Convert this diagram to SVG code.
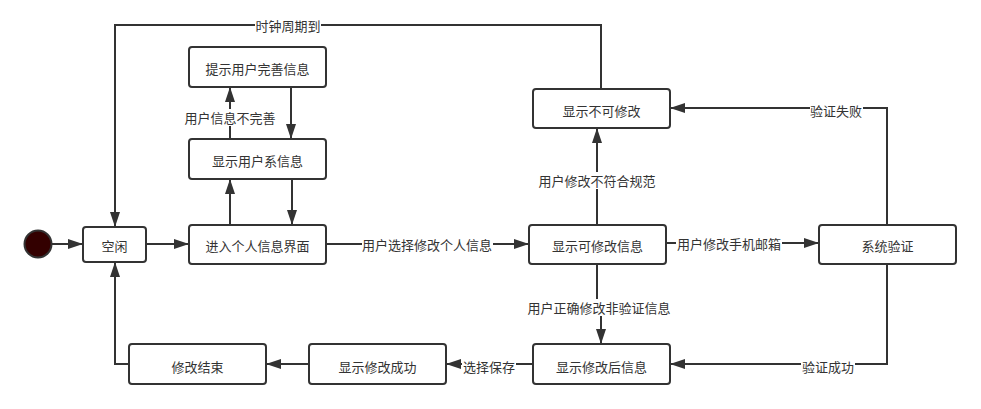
<svg xmlns="http://www.w3.org/2000/svg" width="981" height="409" viewBox="0 0 981 409">
<style>
.box{fill:#fff;stroke:#333;stroke-width:2}
.t{font-family:"Noto Sans CJK SC","Liberation Sans",sans-serif;font-size:13px;fill:#333;text-anchor:middle;dominant-baseline:central}
.c{fill:none;stroke:#333;stroke-width:2}
.lb{fill:#fff}
</style>
<defs>
<marker id="arr" markerWidth="15" markerHeight="10" refX="15" refY="5" orient="auto" markerUnits="userSpaceOnUse">
<path d="M0,0 L15,5 L0,10 z" fill="#333"/>
</marker>
</defs>
<rect width="981" height="409" fill="#fff"/>
<g id="connectors">
<path class="c" d="M52,244 L83,244" marker-end="url(#arr)"/>
<path class="c" d="M146,244 L189,244" marker-end="url(#arr)"/>
<path class="c" d="M326,244 L529,244" marker-end="url(#arr)"/>
<path class="c" d="M230,225 L230,179" marker-end="url(#arr)"/>
<path class="c" d="M292,179 L292,225" marker-end="url(#arr)"/>
<path class="c" d="M230,139 L230,87" marker-end="url(#arr)"/>
<path class="c" d="M291,87 L291,139" marker-end="url(#arr)"/>
<path class="c" d="M601,89 L601,25 L115,25 L115,227" marker-end="url(#arr)"/>
<path class="c" d="M597,225 L597,128" marker-end="url(#arr)"/>
<path class="c" d="M666,243 L819,243" marker-end="url(#arr)"/>
<path class="c" d="M887,225 L887,108 L670,108" marker-end="url(#arr)"/>
<path class="c" d="M887,264 L887,364 L670,364" marker-end="url(#arr)"/>
<path class="c" d="M597,264 L597,307 L601,307 L601,344" marker-end="url(#arr)"/>
<path class="c" d="M533,364 L446,364" marker-end="url(#arr)"/>
<path class="c" d="M309,364 L266,364" marker-end="url(#arr)"/>
<path class="c" d="M129,364 L115,364 L115,262" marker-end="url(#arr)"/>
<rect class="lb" x="255" y="17" width="66" height="17"/>
<text class="t" x="288" y="25">时钟周期到</text>
<rect class="lb" x="184" y="109" width="92" height="17"/>
<text class="t" x="230" y="117">用户信息不完善</text>
<rect class="lb" x="362" y="236" width="131" height="17"/>
<text class="t" x="427" y="244">用户选择修改个人信息</text>
<rect class="lb" x="538" y="172" width="118" height="17"/>
<text class="t" x="597" y="180">用户修改不符合规范</text>
<rect class="lb" x="676" y="235" width="106" height="17"/>
<text class="t" x="729" y="243">用户修改手机邮箱</text>
<rect class="lb" x="810" y="102" width="53" height="17"/>
<text class="t" x="836" y="110">验证失败</text>
<rect class="lb" x="527" y="299" width="144" height="17"/>
<text class="t" x="599" y="307">用户正确修改非验证信息</text>
<rect class="lb" x="801" y="357" width="54" height="17"/>
<text class="t" x="828" y="366">验证成功</text>
<rect class="lb" x="462" y="357" width="54" height="17"/>
<text class="t" x="489" y="366">选择保存</text>
</g>
<g id="start"><circle cx="38" cy="244" r="13.5" fill="#330000" stroke="#333" stroke-width="2"/></g>
<g id="idle"><rect class="box" x="83" y="227" width="63" height="35" rx="3"/><text class="t" x="114.5" y="245">空闲</text></g>
<g id="enter"><rect class="box" x="189" y="225" width="137" height="39" rx="3"/><text class="t" x="257.5" y="245">进入个人信息界面</text></g>
<g id="prompt"><rect class="box" x="189" y="47" width="137" height="40" rx="3"/><text class="t" x="257.5" y="68">提示用户完善信息</text></g>
<g id="showuser"><rect class="box" x="189" y="139" width="137" height="40" rx="3"/><text class="t" x="257.5" y="160">显示用户系信息</text></g>
<g id="cannot"><rect class="box" x="533" y="89" width="137" height="39" rx="3"/><text class="t" x="601.5" y="110">显示不可修改</text></g>
<g id="editable"><rect class="box" x="529" y="225" width="137" height="39" rx="3"/><text class="t" x="597.5" y="245">显示可修改信息</text></g>
<g id="verify"><rect class="box" x="819" y="225" width="137" height="39" rx="3"/><text class="t" x="887.5" y="245">系统验证</text></g>
<g id="after"><rect class="box" x="533" y="344" width="137" height="40" rx="3"/><text class="t" x="601.5" y="366">显示修改后信息</text></g>
<g id="success"><rect class="box" x="309" y="344" width="137" height="40" rx="3"/><text class="t" x="377.5" y="366">显示修改成功</text></g>
<g id="end"><rect class="box" x="129" y="344" width="137" height="40" rx="3"/><text class="t" x="197.5" y="366">修改结束</text></g>
</svg>
